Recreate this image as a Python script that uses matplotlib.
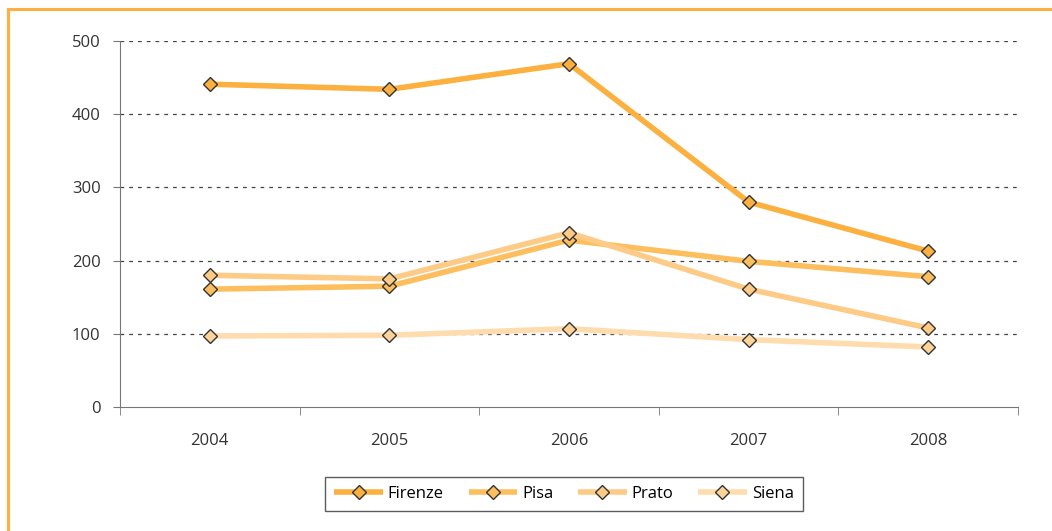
import matplotlib.pyplot as plt
from matplotlib.patches import Rectangle
import numpy as np

plt.rcParams['font.family'] = ['Open Sans', 'DejaVu Sans']

years = ['2004', '2005', '2006', '2007', '2008']
firenze = [441, 434, 469, 280, 213]
pisa = [161, 165, 228, 199, 178]
prato = [180, 175, 238, 161, 108]
siena = [97, 98, 107, 92, 82]

series = [('Firenze', firenze, '#FBB040', '#FBB040'),
          ('Pisa', pisa, '#FDBE5E', '#FDBE5E'),
          ('Prato', prato, '#FECB87', '#FECB87'),
          ('Siena', siena, '#FEDCAE', '#FED39A')]

W, H = 1052, 531
fig = plt.figure(figsize=(W/100, H/100), dpi=100)
ax = fig.add_axes([120/W, 1-407/H, (1018-120)/W, (407-41)/H])

x = np.arange(len(years))
for name, vals, col, mfc in series:
    ax.plot(x, vals, color=col, lw=4, marker='D', ms=7.5, mfc=mfc,
            mec='#333333', mew=1, label=name, solid_capstyle='butt')

ax.set_xlim(-0.5, len(years)-0.5)
ax.set_ylim(0, 500)
ax.set_yticks([0, 100, 200, 300, 400, 500])
for v in [100, 200, 300, 400, 500]:
    ax.axhline(v, color='#444444', lw=0.9, ls=(0, (3, 4)), zorder=0)
ax.set_xticks(x)
ax.set_xticklabels(years)
ax.set_xticks(np.arange(-0.5, len(years)), minor=True)
ax.tick_params(axis='x', which='major', length=0, pad=19, labelsize=12, colors='#333333')
ax.tick_params(axis='x', which='minor', length=6, color='#777777', direction='out')
ax.tick_params(axis='y', length=5, color='#777777', labelsize=12, labelcolor='#333333', pad=9)
for s in ['top', 'right']:
    ax.spines[s].set_visible(False)
ax.spines['left'].set_color('#777777')
ax.spines['bottom'].set_color('#777777')

leg = ax.legend(loc='center', bbox_to_anchor=(564/W, 1-494/H), bbox_transform=fig.transFigure,
                ncol=4, frameon=True, fancybox=False, edgecolor='#333333',
                fontsize=12, handlelength=2.9, handletextpad=0.3, columnspacing=1.5,
                borderpad=0.55, borderaxespad=0)
leg.get_frame().set_linewidth(1)

fig.patches.append(Rectangle((8/W, -0.1), 1.2, 1-9/H+0.1, transform=fig.transFigure,
                             fill=False, edgecolor='#FBB040', lw=2.2))

fig.savefig('out.png', dpi=100)
